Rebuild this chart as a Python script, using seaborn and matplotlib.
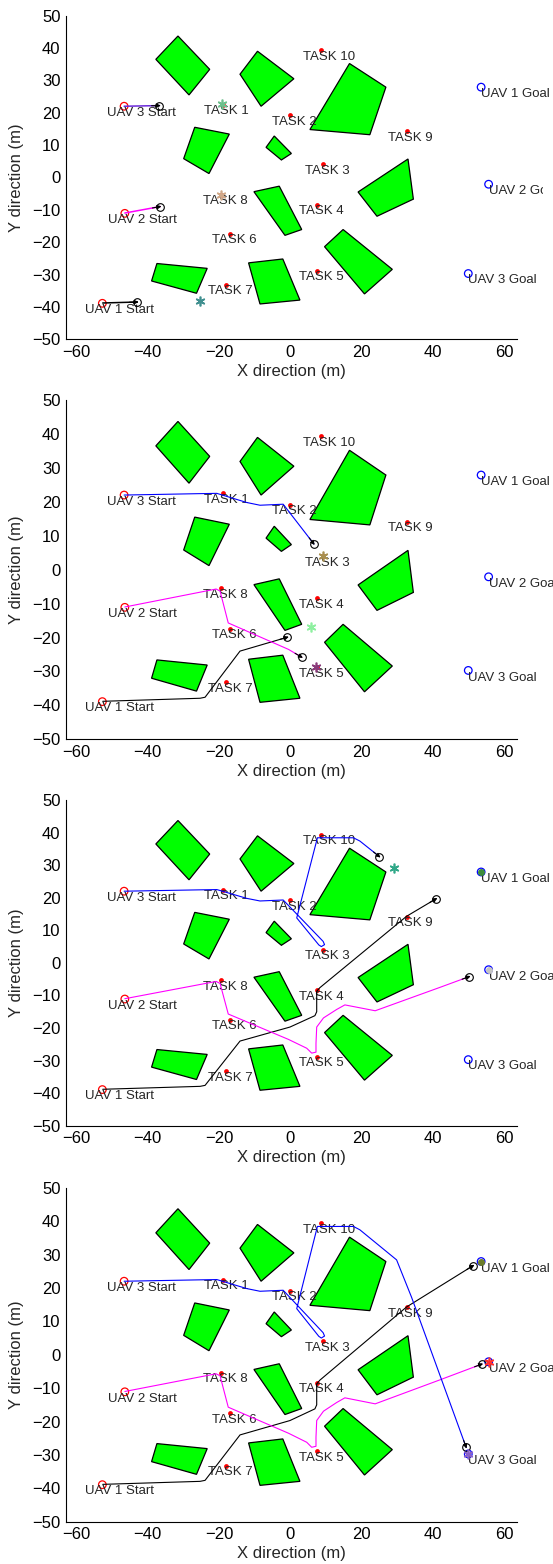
import numpy as np
import matplotlib
matplotlib.use("Agg")
import matplotlib.pyplot as plt
import seaborn as sns
import pandas as pd
from matplotlib.patches import Polygon
from matplotlib.transforms import Bbox

sns.set_style("white")
plt.rcParams["font.family"] = ["Liberation Sans", "DejaVu Sans"]

# ---------------- data ----------------
task_names = ["TASK 1", "TASK 2", "TASK 3", "TASK 4", "TASK 5",
              "TASK 6", "TASK 7", "TASK 8", "TASK 9", "TASK 10"]
task_x = [-19.0, 0.0, 9.3, 7.4, 7.4, -16.9, -18.1, -19.4, 32.6, 8.6]
task_y = [22.5, 19.2, 4.0, -8.4, -28.8, -17.4, -33.2, -5.4, 14.2, 39.3]

uav_names = ["UAV 1", "UAV 2", "UAV 3"]
start_x = [-52.7, -46.4, -46.6]
start_y = [-38.9, -11.1, 22.0]
goal_x = [53.5, 55.6, 49.9]
goal_y = [27.9, -2.1, -29.7]

obstacle_x = [
    [-31.5, -22.6, -28.4, -37.7],
    [-9.2, 1.0, -8.2, -14.1],
    [16.6, 26.8, 22.3, 5.5],
    [-26.8, -17.1, -22.8, -29.9],
    [-4.5, 0.3, -2.5, -6.8],
    [33.0, 34.5, 24.3, 19.0],
    [-10.2, -3.1, 3.2, -1.5],
    [14.8, 28.6, 20.8, 9.6],
    [-37.4, -23.3, -26.3, -38.9],
    [-11.7, -2.1, 2.7, -8.5],
]
obstacle_y = [
    [43.7, 33.4, 25.5, 36.5],
    [39.0, 30.5, 22.0, 31.9],
    [35.2, 27.9, 13.2, 14.8],
    [15.5, 13.4, 1.2, 5.8],
    [12.8, 7.4, 5.4, 9.3],
    [5.7, -6.7, -12.0, -4.5],
    [-4.4, -2.7, -16.1, -17.9],
    [-16.1, -28.4, -36.0, -21.4],
    [-26.6, -28.1, -35.8, -32.0],
    [-26.4, -25.2, -37.9, -39.1],
]

# full flown paths (waypoints)
uav1_path_x = [-52.6, -25.3, -23.9, -14.1, -0.1, 6.9, 7.4, 7.4, 8.3, 32.6]
uav1_path_y = [-38.8, -37.9, -37.6, -24.0, -19.7, -16.2, -15.0, -8.7, -7.6, 14.3]
uav2_path_x = [-46.4, -20.8, -19.7, -17.4, -0.5, 4.6, 6.0, 7.2, 7.2, 7.4,
               9.3, 13.0, 15.3, 23.8, 42.0]
uav2_path_y = [-11.0, -5.7, -6.3, -15.7, -23.5, -26.2, -27.7, -27.4, -24.7,
               -19.7, -16.9, -14.3, -12.9, -14.7, -7.5]
uav3_path_x = [-46.6, -26.3, -20.6, -12.2, -8.5, -2.0, 9.2, 9.6, 8.7, 8.0,
               1.8, 7.6, 17.7, 19.5, 29.8, 34.0]
uav3_path_y = [22.0, 22.4, 22.5, 19.8, 19.0, 19.3, 6.6, 5.6, 5.0, 5.5,
               13.8, 38.4, 38.4, 37.4, 28.4, 17.2]

# per snapshot: number of waypoints flown and current position
uav1_snap_n = [1, 4, 10, 10]
uav1_pos_x = [-42.9, -0.8, 40.9, 51.3]
uav1_pos_y = [-38.5, -19.9, 19.7, 26.7]
uav2_snap_n = [1, 5, 15, 15]
uav2_pos_x = [-36.5, 3.2, 50.2, 53.7]
uav2_pos_y = [-9.0, -25.8, -4.2, -2.8]
uav3_snap_n = [1, 6, 14, 16]
uav3_pos_x = [-36.7, 6.6, 25.0, 49.3]
uav3_pos_y = [22.2, 7.6, 32.6, -27.7]

# target markers per snapshot
star_x = [[-19.1, -19.4, -25.3], [9.3, 5.8, 7.2], [29.1, 53.4, 55.6], [53.4, 55.6, 49.9]]
star_y = [[22.7, -5.5, -38.2], [4.0, -16.9, -28.6], [29.0, 27.9, -2.1], [27.9, -2.1, -29.7]]
star_colors = [["#6cc08c", "#d0a888", "#3f8f8f"],
               ["#a89050", "#8ef0a0", "#8a3a7a"],
               ["#30a888", "#3c8c3c", "#c4c4c4"],
               ["#6b7d2a", "#ff3030", "#8a60c8"]]
star_markers = [["*", "*", "*"], ["*", "*", "*"], ["*", "o", "o"], ["o", "*", "*"]]

x_ticks = [-60, -40, -20, 0, 20, 40, 60]
y_ticks = [-50, -40, -30, -20, -10, 0, 10, 20, 30, 40, 50]

# path colour per UAV for each snapshot
path_colors = [["black", "#ff00ff", "#6a28d8"],
               ["black", "#ff00ff", "#0000ff"],
               ["black", "#ff00ff", "#0000ff"],
               ["black", "#ff00ff", "#0000ff"]]

# ---------------- figure ----------------
W, H = 553, 1564
fig = plt.figure(figsize=(W / 100, H / 100), dpi=100)
axes_rects = [(0.1193, 0.7831, 0.8165, 0.2069),
              (0.1193, 0.5273, 0.8165, 0.2169),
              (0.1193, 0.2802, 0.8165, 0.2083),
              (0.1193, 0.0270, 0.8165, 0.2136)]

paths_x = [uav1_path_x, uav2_path_x, uav3_path_x]
paths_y = [uav1_path_y, uav2_path_y, uav3_path_y]
snap_ns = [uav1_snap_n, uav2_snap_n, uav3_snap_n]
pos_xs = [uav1_pos_x, uav2_pos_x, uav3_pos_x]
pos_ys = [uav1_pos_y, uav2_pos_y, uav3_pos_y]

label_fs = 9.5
tick_fs = 12

for k, rect in enumerate(axes_rects):
    ax = fig.add_axes(rect)
    ax.set_xlim(-62.9, 63.7)
    ax.set_ylim(-50, 50)

    # obstacles
    for ox, oy in zip(obstacle_x, obstacle_y):
        ax.add_patch(Polygon(np.column_stack([ox, oy]), closed=True,
                             facecolor="#00ff00", edgecolor="black", lw=0.9, zorder=1))

    # tasks
    sns.scatterplot(x=task_x, y=task_y, ax=ax, color="red", s=12,
                    linewidth=0, zorder=3)
    for name, tx, ty in zip(task_names, task_x, task_y):
        ax.text(tx - 5.1, ty - 2.0, name, fontsize=label_fs, ha="left",
                va="center", zorder=4)

    # starts and goals
    sns.scatterplot(x=start_x, y=start_y, ax=ax, marker="o", s=30,
                    facecolor="none", edgecolor="red", linewidth=0.9, zorder=3)
    sns.scatterplot(x=goal_x, y=goal_y, ax=ax, marker="o", s=30,
                    facecolor="none", edgecolor="blue", linewidth=0.9, zorder=3)
    for name, sx, sy in zip(uav_names, start_x, start_y):
        ax.text(sx - 4.8, sy - 2.0, name + " Start", fontsize=label_fs,
                ha="left", va="center", zorder=4)
    for name, gx, gy in zip(uav_names, goal_x, goal_y):
        t = ax.text(gx, gy - 2.1, name + " Goal", fontsize=label_fs,
                    ha="left", va="center", zorder=4, clip_on=False)
        if k == 0 and name == "UAV 2":
            t.set_clip_box(Bbox.from_extents(0, 0, 543, H))
            t.set_clip_on(True)

    # paths
    for u in range(3):
        n = snap_ns[u][k]
        px = list(paths_x[u][:n]) + [pos_xs[u][k]]
        py = list(paths_y[u][:n]) + [pos_ys[u][k]]
        df = pd.DataFrame({"x": px, "y": py, "o": range(len(px))})
        sns.lineplot(data=df, x="x", y="y", sort=False, estimator=None,
                     color=path_colors[k][u], lw=0.8 if k else 1.1, ax=ax, zorder=5)
        # current UAV position with heading arrow
        cx, cy = pos_xs[u][k], pos_ys[u][k]
        dx, dy = cx - px[-2], cy - py[-2]
        L = np.hypot(dx, dy)
        ux, uy = dx / L, dy / L
        ax.annotate("", xy=(cx + 0.4 * ux, cy + 0.4 * uy),
                    xytext=(cx - 2.2 * ux, cy - 2.2 * uy),
                    arrowprops=dict(arrowstyle="-|>", color="black", lw=0.8,
                                    mutation_scale=6, shrinkA=0, shrinkB=0),
                    zorder=6)
        ax.plot([cx], [cy], marker="o", ms=5.5, mfc="none", mec="black",
                mew=0.8, zorder=6)

    # target markers
    for sx, sy, sc, sm in zip(star_x[k], star_y[k], star_colors[k], star_markers[k]):
        if sm == "o":
            ax.plot([sx], [sy], marker="o", ms=4, color=sc, mec=sc, zorder=7)
        else:
            ax.plot([sx], [sy], marker=(6, 2, 0), ms=7, color=sc, mew=1.2, zorder=7)

    # axes styling (MATLAB-like, box off, ticks inside)
    for side in ["top", "right"]:
        ax.spines[side].set_visible(False)
    for side in ["left", "bottom"]:
        ax.spines[side].set_color("black")
        ax.spines[side].set_linewidth(0.8)
    ax.set_xticks(x_ticks)
    ax.set_yticks(y_ticks)
    ax.tick_params(direction="in", length=3.5, width=0.8, labelsize=tick_fs,
                   colors="black", pad=4)
    ax.set_xlabel("X direction (m)", fontsize=tick_fs, labelpad=3)
    ax.set_ylabel("Y direction (m)", fontsize=tick_fs, labelpad=6)
    ax.set_facecolor("white")
    leg = ax.get_legend()
    if leg is not None:
        leg.remove()

fig.savefig("out.png", dpi=100, facecolor="white")
